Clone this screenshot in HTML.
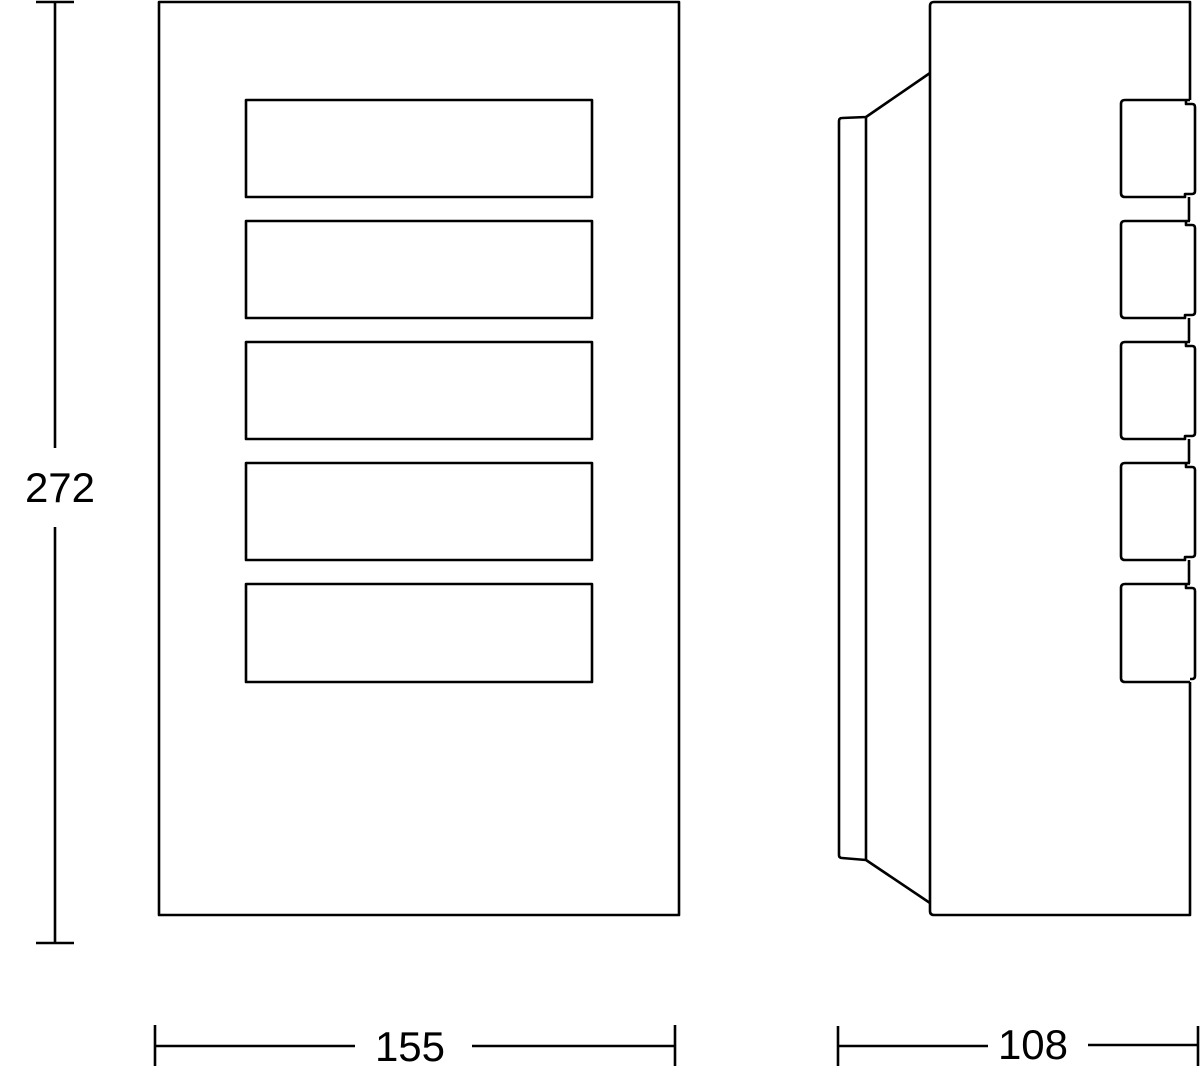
<!DOCTYPE html>
<html><head><style>body{margin:0;background:#fff}svg{display:block}</style></head><body>
<svg width="1200" height="1083" viewBox="0 0 1200 1083" xmlns="http://www.w3.org/2000/svg">
<g fill="none" stroke="#000" stroke-width="2.6" stroke-linejoin="round">
<rect x="159" y="2" width="520" height="913"/>
<rect x="246" y="100" width="346" height="97"/>
<rect x="246" y="221" width="346" height="97"/>
<rect x="246" y="342" width="346" height="97"/>
<rect x="246" y="463" width="346" height="97"/>
<rect x="246" y="584" width="346" height="98"/>
<path d="M930 73 V6 Q930 2 934 2 H1190 V100 M930 73 V911 Q930 915 934 915 H1190 V682"/>
<path d="M930 73 L866 117 L842 118 Q839 118 839 121 V855 Q839 858 842 858 L866 860 L930 903"/>
<path d="M866 117 V860"/>
<g id="l">
<path d="M1190 100 H1125 Q1121 100 1121 104 V193 Q1121 197 1125 197 H1185 V194 H1192 Q1195 194 1195 191 V107 Q1195 104 1192 104 H1186 V100 M1189 197 V221"/>
</g>
<use href="#l" y="121"/><use href="#l" y="242"/><use href="#l" y="363"/>
<path d="M1190 584 H1125 Q1121 584 1121 588 V678 Q1121 682 1125 682 H1190 M1186 584 V588 H1192 Q1195 588 1195 591 V676 Q1195 679 1192 679 H1190"/>
<path d="M55 2 V448 M55 527 V943 M36 2 H74 M36 943 H74"/>
<path d="M155 1046 H355 M472 1046 H675 M155 1025 V1066 M675 1025 V1066"/>
<path d="M838 1046 H988 M1088 1045 H1198 M838 1026 V1066 M1198 1026 V1066"/>
</g>
<g font-family="Liberation Sans, sans-serif" font-size="42" fill="#000" text-anchor="middle">
<text x="60" y="502">272</text>
<text x="410" y="1061">155</text>
<text x="1033" y="1059">108</text>
</g>
</svg>
</body></html>
